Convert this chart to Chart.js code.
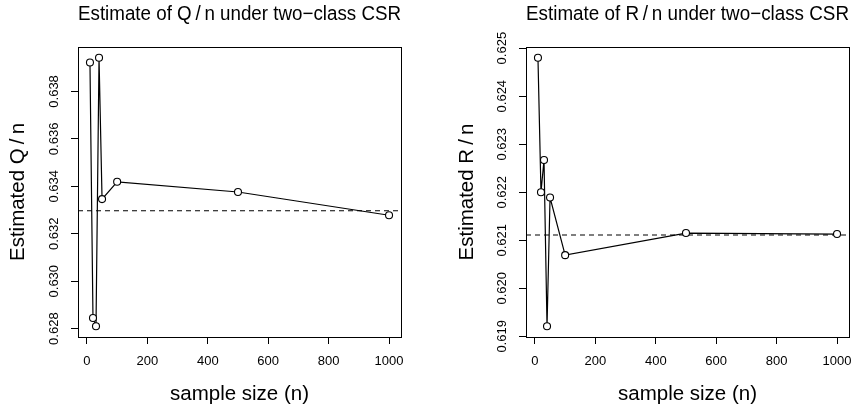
<!DOCTYPE html>
<html>
<head>
<meta charset="utf-8">
<title>Estimates under two-class CSR</title>
<script src="https://cdn.jsdelivr.net/npm/chart.js@4.4.1/dist/chart.umd.min.js"></script>
<style>
    html, body { margin: 0; padding: 0; background: #fff; }
    #wrap { position: relative; width: 864px; height: 409px; }
    canvas { position: absolute; top: 0; }
</style>
</head>
<body>
<div id="wrap">
    <canvas id="qChart" width="432" height="409" style="left:0"></canvas>
    <canvas id="rChart" width="432" height="409" style="left:432px"></canvas>
</div>
<script>
// data
const sampleSizes = [10, 20, 30, 40, 50, 100, 500, 1000];
const qEstimates = [0.63922, 0.62845, 0.62810, 0.63942, 0.63346, 0.63419, 0.63376, 0.63278];
const rEstimates = [0.62480, 0.62200, 0.62267, 0.61921, 0.62189, 0.62069, 0.62115, 0.62113];
const qTrue = 0.63297;
const rTrue = 0.62111;

const xTicks = [0, 200, 400, 600, 800, 1000];
const qTicks = [0.628, 0.630, 0.632, 0.634, 0.636, 0.638];
const rTicks = [0.619, 0.620, 0.621, 0.622, 0.623, 0.624, 0.625];

Chart.defaults.font.family = '"Liberation Sans", Arial, Helvetica, sans-serif';
Chart.defaults.color = "#000";

// R style axis limits: data range stretched by 4% on each side
function paddedRange(values) {
    const lo = Math.min(...values);
    const hi = Math.max(...values);
    const pad = (hi - lo) * 0.04;
    return [lo - pad, hi + pad];
}

// draws the box round the plot region
const boxPlugin = {
    id: "box",
    afterDraw(chart) {
        const a = chart.chartArea;
        const ctx = chart.ctx;
        ctx.save();
        ctx.strokeStyle = "#000";
        ctx.lineWidth = 1;
        ctx.strokeRect(a.left + 0.5, a.top + 0.5, a.right - a.left, a.bottom - a.top);
        ctx.restore();
    }
};

function makePanel(id, title, yTitle, values, trueValue, yTicks, cfg) {
    const [xMin, xMax] = paddedRange(sampleSizes);
    const [yMin, yMax] = paddedRange(values);
    const points = sampleSizes.map((n, i) => ({ x: n, y: values[i] }));

    new Chart(document.getElementById(id), {
        type: "line",
        data: {
            datasets: [
                {
                    data: points,
                    borderColor: "#000",
                    borderWidth: 1.2,
                    pointRadius: 3.5,
                    pointBorderWidth: 1.1,
                    pointBorderColor: "#000",
                    pointBackgroundColor: "#fff",
                    tension: 0,
                    order: 0
                },
                {
                    data: [{ x: xMin, y: trueValue }, { x: xMax, y: trueValue }],
                    borderColor: "#000",
                    borderWidth: 1.2,
                    borderDash: [5, 4],
                    pointRadius: 0,
                    order: 1
                }
            ]
        },
        options: {
            responsive: false,
            animation: false,
            events: [],
            layout: { padding: { left: 0, right: cfg.rightPad, top: 0, bottom: 0 } },
            plugins: {
                legend: { display: false },
                tooltip: { enabled: false },
                title: {
                    display: true,
                    text: title,
                    fullSize: false,
                    color: "#000",
                    font: { size: 20, weight: "normal" },
                    padding: { top: 2, bottom: 21 }
                }
            },
            scales: {
                x: {
                    type: "linear",
                    min: xMin,
                    max: xMax,
                    afterBuildTicks: s => { s.ticks = xTicks.map(v => ({ value: v })); },
                    afterFit: s => { s.height = 72; },
                    ticks: {
                        autoSkip: false,
                        maxRotation: 0,
                        padding: 10,
                        font: { size: 13 },
                        callback: v => String(v)
                    },
                    grid: { drawOnChartArea: false, color: "#000", tickLength: 7 },
                    border: { display: true, color: "#000" },
                    title: {
                        display: true,
                        text: "sample size (n)",
                        font: { size: 20.5 },
                        padding: { top: 0, bottom: 2.7 }
                    }
                },
                y: {
                    type: "linear",
                    min: yMin,
                    max: yMax,
                    afterBuildTicks: s => { s.ticks = yTicks.map(v => ({ value: v })); },
                    afterFit: s => { s.width = cfg.yWidth; },
                    ticks: {
                        autoSkip: false,
                        minRotation: 90,
                        maxRotation: 90,
                        crossAlign: "center",
                        padding: 0.5,
                        font: { size: 13 },
                        callback: v => v.toFixed(3)
                    },
                    grid: { drawOnChartArea: false, color: "#000", tickLength: 7 },
                    border: { display: true, color: "#000" },
                    title: {
                        display: true,
                        text: yTitle,
                        font: { size: 20.5 },
                        padding: { top: cfg.yTitlePad, bottom: 0 }
                    }
                }
            }
        },
        plugins: [boxPlugin]
    });
}

makePanel("qChart", "Estimate of Q\u2009/\u2009n under two\u2212class CSR", "Estimated Q\u2009/\u2009n",
    qEstimates, qTrue, qTicks, { rightPad: 31, yWidth: 78, yTitlePad: 5.7 });
makePanel("rChart", "Estimate of R\u2009/\u2009n under two\u2212class CSR", "Estimated R\u2009/\u2009n",
    rEstimates, rTrue, rTicks, { rightPad: 15, yWidth: 94, yTitlePad: 22.7 });
</script>
</body>
</html>
